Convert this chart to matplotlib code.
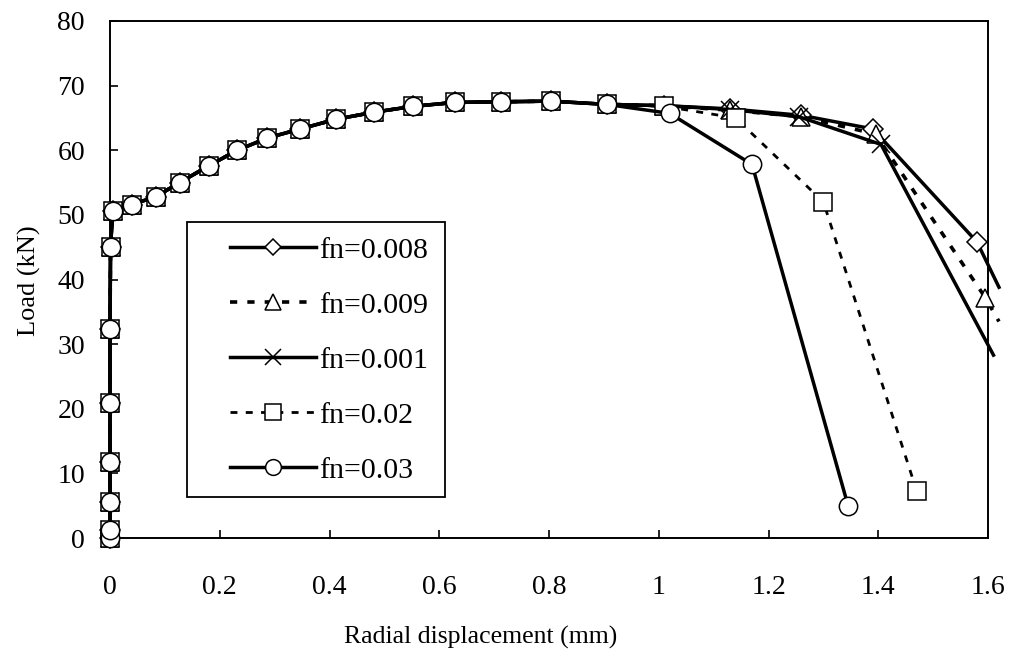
import matplotlib
matplotlib.use("Agg")
import matplotlib.pyplot as plt
from matplotlib.patches import Rectangle

plt.rcParams['font.family'] = ['Liberation Serif', 'DejaVu Serif']

# common loading path (all five curves coincide up to the peak)
base_x = [0, 0, 0, 0, 0, 0, 0.001, 0.005, 0.040, 0.083, 0.127, 0.180, 0.232,
          0.287, 0.347, 0.412, 0.482, 0.553, 0.628, 0.712, 0.803, 0.905]
base_y = [0, 1.2, 5.5, 11.8, 20.9, 32.3, 45.1, 50.6, 51.6, 52.8, 55.0, 57.6,
          60.0, 61.9, 63.3, 64.8, 65.9, 66.8, 67.4, 67.5, 67.6, 67.1]

# softening branches after the peak
tail_008_x = [1.01, 1.13, 1.26, 1.39, 1.58, 1.62]
tail_008_y = [66.9, 66.4, 65.4, 63.3, 45.8, 38.8]
tail_009_x = [1.01, 1.13, 1.26, 1.395, 1.595, 1.62]
tail_009_y = [66.9, 66.2, 65.2, 62.5, 37.2, 33.5]
tail_001_x = [1.01, 1.13, 1.255, 1.405, 1.61]
tail_001_y = [66.9, 66.3, 65.2, 60.9, 28.3]
tail_02_x = [1.01, 1.14, 1.30, 1.47]
tail_02_y = [66.8, 65.0, 52.0, 7.3]
tail_03_x = [1.02, 1.17, 1.345]
tail_03_y = [65.7, 57.8, 5.0]

labels = ['fn=0.008', 'fn=0.009', 'fn=0.001', 'fn=0.02', 'fn=0.03']

fig = plt.figure(figsize=(10.15, 6.56), dpi=100)
ax = fig.add_axes([110 / 1015, 118 / 656, 878 / 1015, 517 / 656])

ms = 13.2
common = dict(color='black', markeredgecolor='black', markerfacecolor='white',
              markeredgewidth=1.1, ms=ms, clip_on=False, zorder=3)

ax.plot(base_x + tail_008_x, base_y + tail_008_y, '-', marker='D', lw=2.5,
        markevery=slice(0, -1), label=labels[0], **{**common, 'ms': ms * 0.74})
ax.plot(base_x + tail_009_x, base_y + tail_009_y, marker='^', lw=2.6,
        dashes=(2.0, 2.8), markevery=slice(0, -1), label=labels[1], **common)
ax.plot(base_x + tail_001_x, base_y + tail_001_y, '-', marker='x', lw=2.5,
        markevery=slice(0, -1), label=labels[2], **common)
ax.plot(base_x + tail_02_x, base_y + tail_02_y, marker='s', lw=2.0,
        dashes=(2.5, 3.0), label=labels[3], **common)
ax.plot(base_x + tail_03_x, base_y + tail_03_y, '-', marker='o', lw=2.5,
        label=labels[4], **common)

ax.set_xlim(0, 1.6)
ax.set_ylim(0, 80)
ax.set_xticks([0, 0.2, 0.4, 0.6, 0.8, 1.0, 1.2, 1.4, 1.6])
ax.set_xticklabels(['0', '0.2', '0.4', '0.6', '0.8', '1', '1.2', '1.4', '1.6'])
ax.set_yticks(range(0, 81, 10))
ax.tick_params(axis='x', direction='in', length=6, width=1.2, pad=27,
               labelsize=20, top=False)
ax.tick_params(axis='y', direction='in', length=6, width=1.2, pad=18,
               labelsize=20, right=False)
for side in ax.spines:
    ax.spines[side].set_linewidth(1.4)
    ax.spines[side].set_zorder(2)

ax.set_xlabel('Radial displacement (mm)', fontsize=18.5)
ax.set_ylabel('Load (kN)', fontsize=19)
ax.xaxis.label.set_va('center')
ax.yaxis.label.set_va('center')
ax.xaxis.set_label_coords(0.4225, -0.1915)
ax.yaxis.set_label_coords(-0.0915, 0.497)

# legend box drawn by hand so the padding matches the original
ax.add_patch(Rectangle(((187 - 110) / 878, (538 - 497) / 517), 258 / 878, 275 / 517,
                       transform=ax.transAxes, facecolor='white', edgecolor='black',
                       lw=1.3, zorder=4, clip_on=False))
ax.legend(loc='upper left', bbox_to_anchor=((230 - 110) / 878, (538 - 237) / 517),
          frameon=False, borderpad=0, borderaxespad=0, handlelength=2.88,
          handletextpad=0.1, labelspacing=0.94, fontsize=21.5, markerscale=0.86)

fig.savefig('out.png', dpi=100)
